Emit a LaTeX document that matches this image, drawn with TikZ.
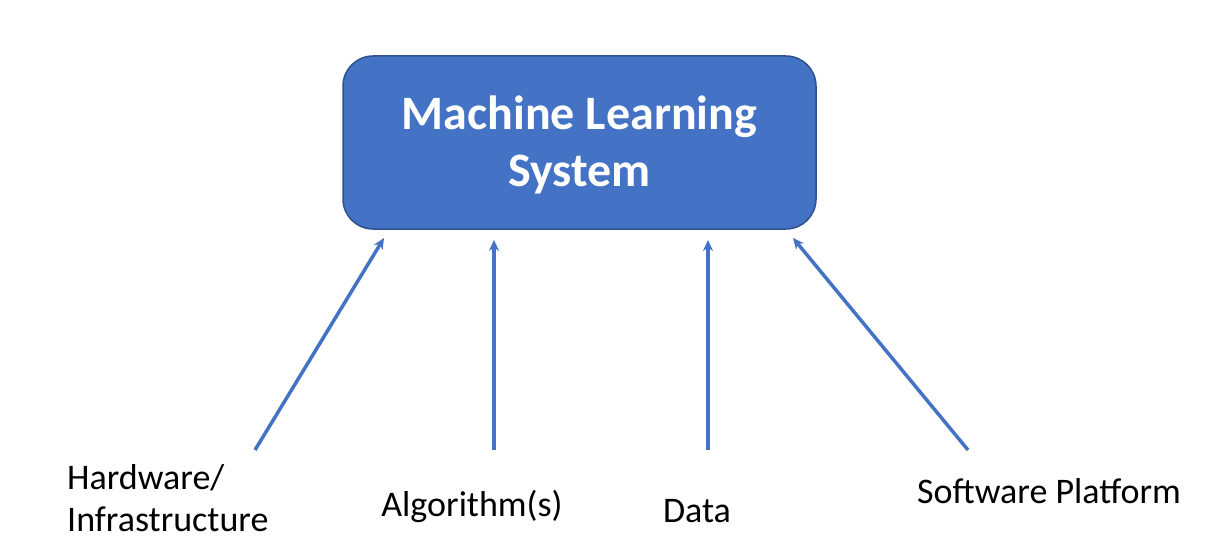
\documentclass[tikz,border=0pt]{standalone}
\usepackage{fontspec}
\setmainfont{Carlito}
\usetikzlibrary{arrows.meta}
\definecolor{mlblue}{HTML}{4472C4}
\definecolor{mledge}{HTML}{2F528F}
\begin{document}
\begin{tikzpicture}[x=1pt,y=-1pt,
  box/.style={fill=mlblue,draw=mledge,line width=1.5pt,rounded corners=30pt},
  arr/.style={draw=mlblue,line width=3.5pt,-{Stealth[length=11pt,width=10pt]}},
  lab/.style={font=\fontsize{36}{42}\selectfont,inner sep=0pt}]
\useasboundingbox (0,0) rectangle (1230,540);
\draw[box] (343,56) rectangle (816,229);
\node[font=\bfseries\fontsize{48}{57}\selectfont,text=white,align=center] (ml) at (579.5,145) {Machine Learning\\System};
\coordinate (h1) at (255,450); \coordinate (h2) at (384,238);
\coordinate (a1) at (494,450); \coordinate (a2) at (494,240);
\coordinate (d1) at (708,450); \coordinate (d2) at (708,240);
\coordinate (s1) at (968,450); \coordinate (s2) at (793,238);
\draw[arr] (h1) -- (h2);
\draw[arr] (a1) -- (a2);
\draw[arr] (d1) -- (d2);
\draw[arr] (s1) -- (s2);
\node[lab,align=left,anchor=west] (hw) at (67,498) {Hardware/\\Infrastructure};
\node[lab] (al) at (472,506) {Algorithm(s)};
\node[lab] (da) at (697,511) {Data};
\node[lab] (sp) at (1049,491) {Software Platform};
\end{tikzpicture}
\end{document}
